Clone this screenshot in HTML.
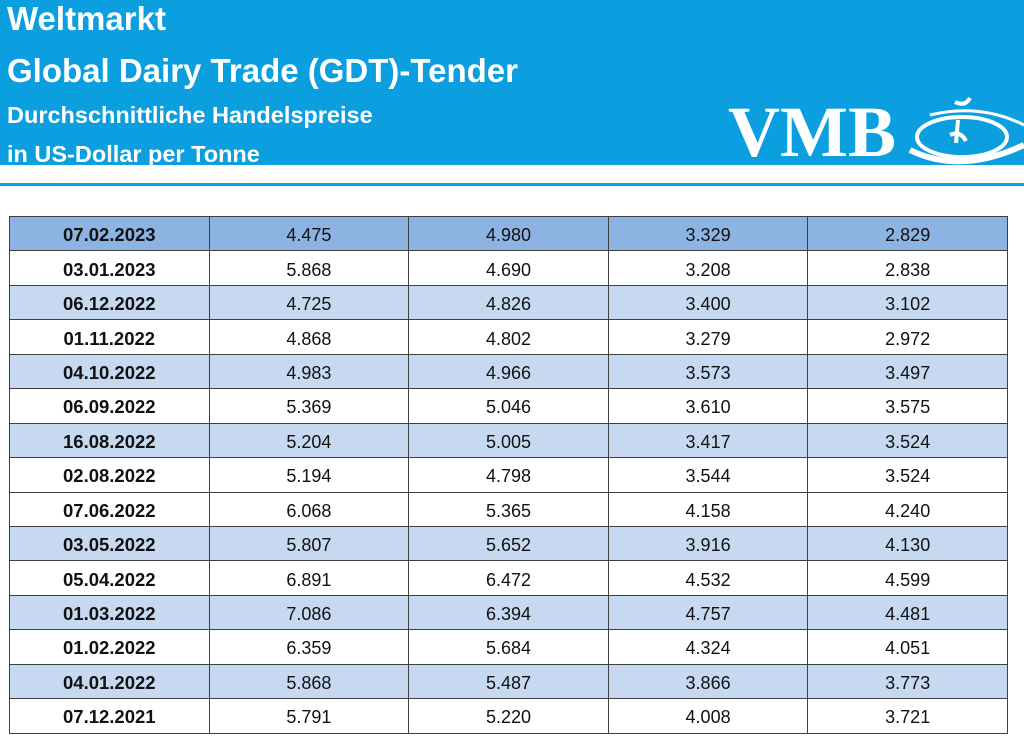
<!DOCTYPE html><html><head><style>
body{margin:0;width:1024px;height:744px;background:#fff;position:relative;overflow:hidden;font-family:"Liberation Sans",sans-serif}
.hd{position:absolute;left:0;top:0;width:1024px;height:165px;background:#0b9fe0}
.t{position:absolute;color:#fff;font-weight:bold;white-space:nowrap}
.line{position:absolute;left:0;top:183px;width:1024px;height:3px;background:#0b9fe0}
table{position:absolute;left:9px;top:216px;border-collapse:collapse;width:999px;table-layout:fixed}
tr{height:34.45px}
td{border:1px solid #404040;padding:0;text-align:center;font-size:18px;color:#111;line-height:18px;padding-top:3px;overflow:hidden}
td:first-child{font-weight:bold;font-size:18.5px}
tr.b td{background:#c6d9f1}
tr.h td{background:#8db3e2}
</style></head><body>
<div class="hd"></div>
<div class="t" style="left:7px;top:0px;font-size:33px">Weltmarkt</div>
<div class="t" style="left:7px;top:52px;font-size:33px">Global Dairy Trade (GDT)-Tender</div>
<div class="t" style="left:7px;top:102px;font-size:23.5px">Durchschnittliche Handelspreise</div>
<div class="t" style="left:7px;top:141px;font-size:23.5px">in US-Dollar per Tonne</div>
<div class="t" style="left:728px;top:96px;font-size:72px;font-family:'Liberation Serif',serif;line-height:72px;height:69px;overflow:hidden">VMB</div>
<svg style="position:absolute;left:900px;top:95px" width="124" height="70"><g fill="none" stroke="#fff" stroke-width="4"><ellipse cx="62" cy="42" rx="45" ry="20"/><path d="M10 55 Q60 80 124 50" stroke-width="6"/><path d="M30 20 Q80 8 124 30" stroke-width="3"/><path d="M55 7 Q65 12 70 3"/><path d="M58 25 L56 48 M50 40 Q60 35 66 46"/></g></svg>
<div class="line"></div>
<table>
<tr class="h"><td>07.02.2023</td><td>4.475</td><td>4.980</td><td>3.329</td><td>2.829</td></tr>
<tr><td>03.01.2023</td><td>5.868</td><td>4.690</td><td>3.208</td><td>2.838</td></tr>
<tr class="b"><td>06.12.2022</td><td>4.725</td><td>4.826</td><td>3.400</td><td>3.102</td></tr>
<tr><td>01.11.2022</td><td>4.868</td><td>4.802</td><td>3.279</td><td>2.972</td></tr>
<tr class="b"><td>04.10.2022</td><td>4.983</td><td>4.966</td><td>3.573</td><td>3.497</td></tr>
<tr><td>06.09.2022</td><td>5.369</td><td>5.046</td><td>3.610</td><td>3.575</td></tr>
<tr class="b"><td>16.08.2022</td><td>5.204</td><td>5.005</td><td>3.417</td><td>3.524</td></tr>
<tr><td>02.08.2022</td><td>5.194</td><td>4.798</td><td>3.544</td><td>3.524</td></tr>
<tr><td>07.06.2022</td><td>6.068</td><td>5.365</td><td>4.158</td><td>4.240</td></tr>
<tr class="b"><td>03.05.2022</td><td>5.807</td><td>5.652</td><td>3.916</td><td>4.130</td></tr>
<tr><td>05.04.2022</td><td>6.891</td><td>6.472</td><td>4.532</td><td>4.599</td></tr>
<tr class="b"><td>01.03.2022</td><td>7.086</td><td>6.394</td><td>4.757</td><td>4.481</td></tr>
<tr><td>01.02.2022</td><td>6.359</td><td>5.684</td><td>4.324</td><td>4.051</td></tr>
<tr class="b"><td>04.01.2022</td><td>5.868</td><td>5.487</td><td>3.866</td><td>3.773</td></tr>
<tr><td>07.12.2021</td><td>5.791</td><td>5.220</td><td>4.008</td><td>3.721</td></tr>
</table>
</body></html>
